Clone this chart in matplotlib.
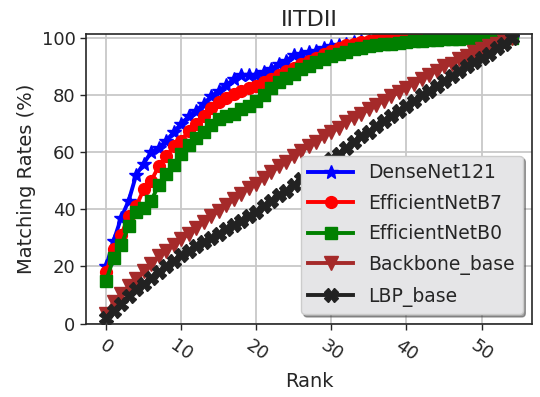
import numpy as np
import matplotlib
matplotlib.use('Agg')
import matplotlib.pyplot as plt

# CMC curves (rank 0..54)
ranks = np.arange(55)

densenet121 = [20, 29, 37, 43, 52, 56, 60, 61.5, 64, 67,
               70, 72.5, 74.5, 77, 79.5, 81.5, 83.5, 85.5, 87, 87,
               87, 88, 89, 91, 92, 94, 94.5, 95, 95.5, 96.5,
               97, 97.5, 98, 98.5, 99, 99, 99.5, 99.5, 100, 100,
               100, 100, 100, 100, 100, 100, 100, 100, 100, 100,
               100, 100, 100, 100, 100]

efficientnet_b7 = [18, 26, 31, 37.5, 41, 47, 50, 55, 58.5, 62,
                   64, 67.5, 70, 72.5, 75.5, 77.5, 79, 80.5, 81.5, 82.5,
                   83.3, 84.5, 85.5, 87, 88.5, 89.5, 91, 92, 93, 94.5,
                   95.5, 96.5, 97.5, 98, 98.5, 99, 99.5, 100, 100, 100,
                   100, 100, 100, 100, 100, 100, 100, 100, 100, 100,
                   100, 100, 100, 100, 100]

efficientnet_b0 = [15, 23, 27.5, 34, 39, 40.5, 43, 48.5, 52.5, 55.5,
                   59.5, 62.5, 65, 67, 69.5, 71.5, 72.5, 73.5, 75, 76,
                   78, 80, 82.5, 84.5, 86, 87.5, 89, 90, 91.5, 92.5,
                   93.5, 94.3, 95, 96, 96.5, 97, 97.5, 97.8, 98, 98.3,
                   98.6, 98.8, 99, 99.2, 99.3, 99.5, 99.6, 99.7, 99.8, 99.9,
                   100, 100, 100, 100, 100]

backbone_base = [3.5, 7.5, 10.5, 13, 15.5, 18.5, 21, 23.5, 25.5, 27.5,
                 29.5, 31.5, 33.5, 35.5, 37.5, 39.5, 41.5, 43.5, 45.5, 47.5,
                 49, 51, 53, 55, 56.5, 58.5, 60.5, 62, 63.5, 65.5,
                 67, 68.5, 70.5, 72, 73.5, 75, 76.5, 78, 79.5, 81,
                 82.5, 84, 85.5, 87, 88.5, 90, 91, 92.5, 93.5, 95,
                 96, 97, 98, 99, 100]

lbp_base = [2, 4.5, 7, 9.5, 12, 14, 16, 18, 20, 22,
            24, 25.5, 27, 28.5, 30, 31.5, 33, 34.5, 36, 37.5,
            39, 41, 43, 45, 46.5, 48.5, 50.5, 52, 54, 56,
            57.5, 59.5, 61.5, 63.5, 65.5, 67, 69, 71, 72.5, 74.5,
            76, 78, 80, 81.5, 83, 85, 86.5, 88.5, 90, 91.5,
            93, 94.5, 96.5, 98, 100]

txt = '#262626'
plt.rcParams['font.family'] = 'DejaVu Sans'
plt.rcParams['text.color'] = txt
plt.rcParams['axes.labelcolor'] = txt
plt.rcParams['xtick.color'] = txt
plt.rcParams['ytick.color'] = txt

fig, ax = plt.subplots(figsize=(5.4, 3.97), dpi=100)
fig.subplots_adjust(left=0.159, right=0.985, bottom=0.185, top=0.914)

ax.plot(ranks, densenet121, color='blue', marker='*', markersize=10, linewidth=2.8, label='DenseNet121')
ax.plot(ranks, efficientnet_b7, color='red', marker='o', markersize=8.5, linewidth=2.8, label='EfficientNetB7')
ax.plot(ranks, efficientnet_b0, color='green', marker='s', markersize=8.5, linewidth=2.8, label='EfficientNetB0')
ax.plot(ranks, backbone_base, color='brown', marker='v', markersize=9.5, linewidth=2.8, label='Backbone_base')
ax.plot(ranks, lbp_base, color='#222222', marker='X', markersize=9.5, linewidth=2.8, label='LBP_base')

ax.set_ylim(0, 101.3)
ax.set_yticks([0, 20, 40, 60, 80, 100])
ax.set_xticks([0, 10, 20, 30, 40, 50])

## grid and frame
ax.grid(True, color='#c8c8c8', linewidth=1.3)
ax.set_axisbelow(True)
for sp in ax.spines.values():
    sp.set_color('#262626')
    sp.set_linewidth(1.2)
ax.tick_params(axis='both', labelsize=13, length=4, width=1, direction='out')
ax.tick_params(axis='x', pad=5)
plt.setp(ax.get_xticklabels(), rotation=-35)

ax.set_xlabel('Rank', fontsize=14, labelpad=6)
ax.set_ylabel('Matching Rates (%)', fontsize=14)
ax.set_title('IITDII', fontsize=16)

leg = ax.legend(loc='lower right', fontsize=13.5, shadow=True, fancybox=True,
                handlelength=2.4, labelspacing=0.62,
                facecolor='#e5e5e7', edgecolor='#cccccc', framealpha=1.0)

fig.savefig('out.png', dpi=100)
